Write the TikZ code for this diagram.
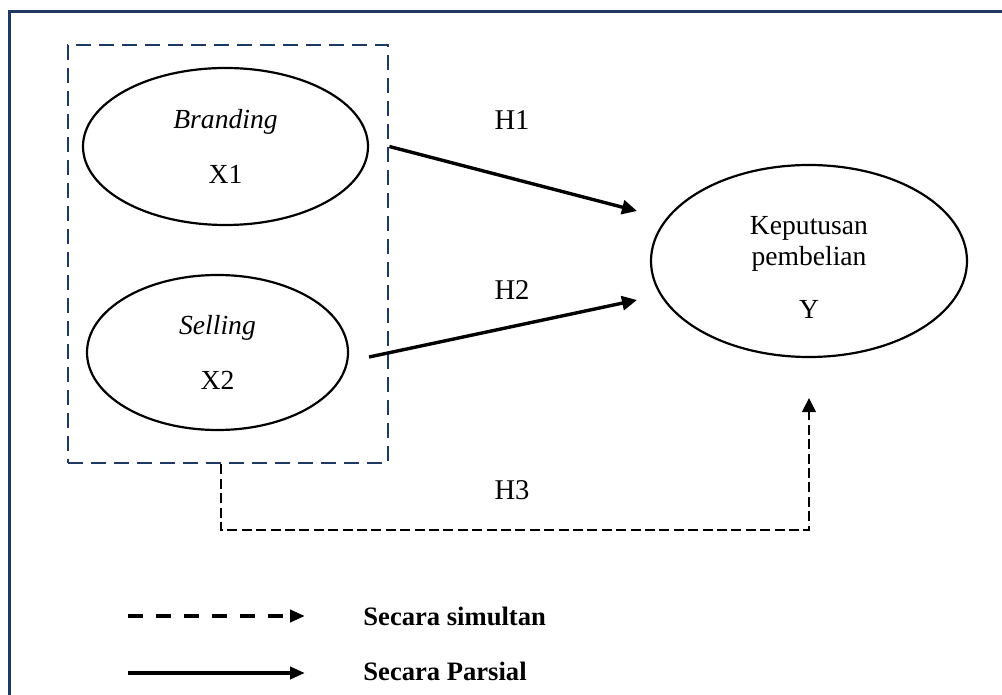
\documentclass[tikz,border=0pt]{standalone}
\usepackage{fontspec}
\setmainfont{Liberation Serif}
\usetikzlibrary{arrows.meta,shapes.geometric}
\definecolor{frameblue}{RGB}{31,56,100}

\begin{document}
\begin{tikzpicture}[x=0.5pt,y=-0.5pt,
  var/.style={draw,ellipse,line width=1.1pt,inner sep=0pt,align=center,font=\fontsize{13.8}{15.5}\selectfont},
  hlab/.style={font=\fontsize{14.3}{16}\selectfont},
  legtext/.style={anchor=west,inner sep=0pt,font=\bfseries\fontsize{13.3}{15}\selectfont},
  partial/.style={line width=1.7pt,-{Triangle[length=7.5pt,width=7pt]}},
  simul/.style={line width=0.6pt,dash pattern=on 5pt off 2.2pt,-{Triangle[length=7pt,width=7pt]}}]
\clip (0,0) rectangle (1002,695);
% frame
\draw[frameblue,line width=1.6pt] (9.5,11.5) rectangle (1020,720);

% boxes
\node[draw=frameblue,line width=1.4pt,dash pattern=on 7.5pt off 4pt,minimum width=160pt,minimum height=209pt,inner sep=0pt] (grp) at (228,254) {};
\node[var,minimum width=142.5pt,minimum height=78.5pt] (x1) at (225.5,146.5) {\textit{Branding}\\[12pt]X1};
\node[var,minimum width=130.5pt,minimum height=77.5pt] (x2) at (217.5,352.5) {\textit{Selling}\\[12pt]X2};
\node[var,minimum width=158pt,minimum height=96pt] (ky) at (809,261) {};
\node[align=center,inner sep=0pt,font=\fontsize{13.8}{15.5}\selectfont] (kyt) at (809,267) {Keputusan\\pembelian\\[11pt]Y};

% arrow ends
\coordinate (h1e) at (637,211);
\coordinate (h2e) at (637,300);
\coordinate (h3b) at (809,530);

\draw[partial] (grp.east |- x1) -- (h1e);
\draw[partial] ([xshift=10pt,yshift=-2.25pt]x2.east) -- (h2e);
\draw[simul] ([xshift=-3.5pt]grp.south) |- (h3b) -- ([yshift=-20pt]ky.south);

\node[hlab] (h1) at (512,120) {H1};
\node[hlab] (h2) at (512,290) {H2};
\node[hlab] (h3) at (512,490) {H3};

% legend
\coordinate (ls1) at (128,616);
\coordinate (le1) at (305,616);
\coordinate (ls2) at (128,673);
\coordinate (le2) at (305,673);
\draw[line width=2pt,dash pattern=on 7.5pt off 6.5pt,-{Triangle[length=7.5pt,width=6pt]}] (ls1) -- (le1);
\draw[line width=2pt,-{Triangle[length=7.5pt,width=6pt]}] (ls2) -- (le2);
\node[legtext] (lsim) at (363,616) {Secara simultan};
\node[legtext] (lpar) at (363,671) {Secara Parsial};

\end{tikzpicture}
\end{document}
